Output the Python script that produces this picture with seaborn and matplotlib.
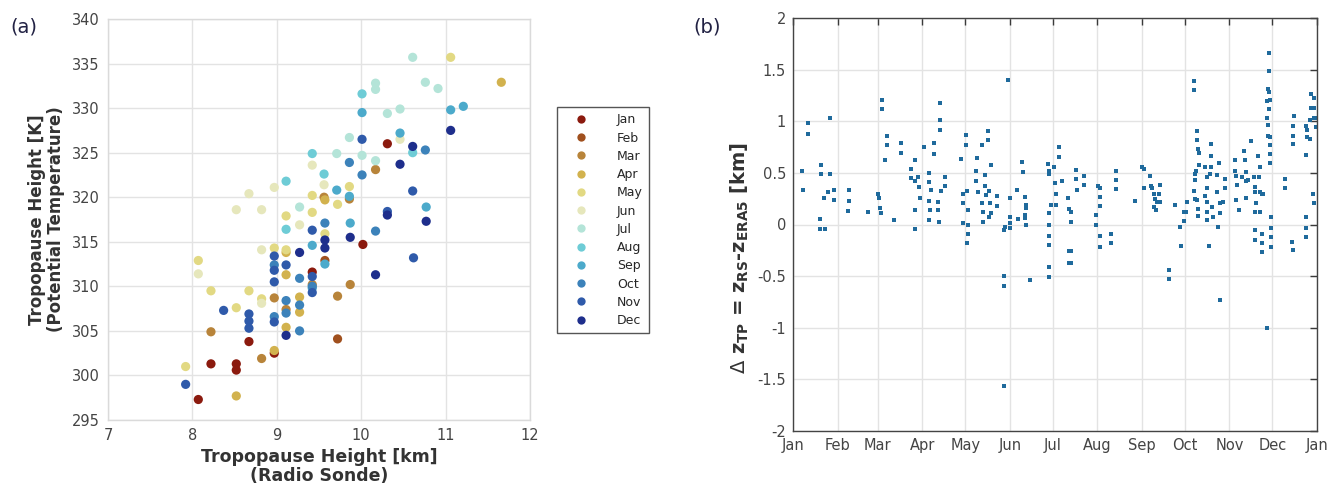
import numpy as np
import pandas as pd
import matplotlib
matplotlib.use("Agg")
import matplotlib.pyplot as plt
import seaborn as sns

# ---------------------------------------------------------------------------
# (a) tropopause height from radio sondes: (height [km], potential temperature [K])
# ---------------------------------------------------------------------------
months = ["Jan", "Feb", "Mar", "Apr", "May", "Jun",
          "Jul", "Aug", "Sep", "Oct", "Nov", "Dec"]

month_colors = ["#8B1A0E", "#A0501E", "#B8843A", "#D2B24E", "#E2D983", "#E6E7BC",
                "#B4E4D8", "#6ECCD6", "#4CAACB", "#3C82BA", "#2F5AAA", "#1E2E8C"]

jan_pts = [(9.42, 311.6), (10.02, 314.7), (8.67, 303.8), (8.97, 302.5), (8.22, 301.3),
           (8.52, 301.3), (8.52, 300.6), (8.07, 297.3), (10.31, 326.0)]
feb_pts = [(9.72, 304.1), (9.57, 312.9)]
mar_pts = [(8.97, 308.7), (9.11, 307.4), (9.72, 308.9), (9.87, 310.2), (8.22, 304.9),
           (8.82, 301.9), (10.17, 323.1), (9.56, 320.0), (9.86, 319.8), (9.42, 310.2)]
apr_pts = [(9.11, 313.8), (9.11, 311.3), (9.27, 308.8), (9.27, 307.1), (9.11, 305.4),
           (8.97, 302.8), (8.52, 297.7), (9.57, 319.7), (11.66, 332.9)]
may_pts = [(9.11, 317.9), (9.42, 318.3), (9.72, 319.2), (9.57, 315.9), (8.97, 314.3),
           (9.11, 314.1), (8.07, 312.9), (8.22, 309.5), (8.67, 309.5), (8.82, 308.6),
           (8.52, 307.6), (7.92, 301.0), (11.06, 335.7), (9.86, 321.2), (9.42, 320.2)]
jun_pts = [(8.52, 318.6), (8.82, 318.6), (9.27, 316.9), (8.82, 314.1), (8.07, 311.4),
           (8.82, 308.1), (10.46, 326.5), (9.42, 323.6), (9.56, 321.4), (8.97, 321.1),
           (8.67, 320.4)]
jul_pts = [(9.27, 318.9), (10.61, 335.7), (10.17, 332.8), (10.17, 332.1), (10.76, 332.9),
           (10.91, 332.2), (10.31, 329.4), (10.46, 329.9), (9.86, 326.7), (9.71, 324.9),
           (10.01, 324.7), (10.17, 324.1)]
aug_pts = [(9.11, 316.4), (10.01, 331.6), (10.61, 325.0), (9.42, 324.9), (9.56, 322.6),
           (9.11, 321.8)]
sep_pts = [(9.42, 314.6), (9.87, 317.1), (10.77, 318.9), (9.57, 312.5), (10.01, 329.5),
           (11.06, 329.8), (11.21, 330.2), (10.46, 327.2), (9.71, 320.8), (9.86, 320.1),
           (9.42, 309.8)]
oct_pts = [(8.97, 312.4), (9.27, 310.9), (9.11, 308.4), (9.11, 307.0), (9.27, 307.9),
           (8.97, 306.6), (9.27, 305.0), (9.57, 317.1), (10.17, 316.2), (10.76, 325.3),
           (9.86, 323.9), (10.01, 322.5), (9.42, 310.0)]
nov_pts = [(9.42, 316.3), (8.97, 313.4), (8.97, 311.8), (9.11, 312.4), (9.42, 311.1),
           (9.42, 309.3), (8.97, 310.5), (10.31, 318.4), (10.62, 313.2), (8.37, 307.3),
           (8.67, 306.9), (8.67, 306.1), (8.67, 305.3), (8.97, 306.0), (7.92, 299.0),
           (10.01, 326.5), (10.61, 320.7)]
dec_pts = [(10.31, 318.0), (10.77, 317.3), (9.57, 315.2), (9.57, 314.3), (9.87, 315.5),
           (9.27, 313.8), (10.17, 311.3), (9.11, 304.5), (11.06, 327.5), (10.61, 325.7),
           (10.46, 323.7)]

monthly_pts = [jan_pts, feb_pts, mar_pts, apr_pts, may_pts, jun_pts,
               jul_pts, aug_pts, sep_pts, oct_pts, nov_pts, dec_pts]

# ---------------------------------------------------------------------------
# (b) radio sonde minus ERA5 tropopause height: day of year, difference [km]
# ---------------------------------------------------------------------------
dz_day_h1 = [
    6.3, 6.7, 10.2, 10.2, 18.6, 18.6, 22.5, 19.7, 19.7, 21.4, 24.2, 25.6, 26.0, 28.3, 28.3,
    38.8, 38.8, 38.3, 52.3,
    59.0, 59.7, 60.4, 61.6, 62.0, 62.0, 64.3, 65.5, 65.5, 70.2, 75.5, 75.5, 82.2, 82.5,
    84.8, 85.3, 84.8, 84.8, 87.1, 87.6, 88.3,
    91.5, 94.5, 94.5, 94.5, 94.5, 95.7, 96.2, 98.0, 98.0, 101.0, 101.0, 101.5, 102.7,
    102.7, 102.7, 103.1, 106.2, 106.2, 117.1, 118.2, 118.2, 118.5,
    120.6, 120.6, 121.3, 121.7, 121.7, 121.7, 121.3, 128.2, 127.8, 127.8, 128.7, 131.7,
    131.7, 132.2, 132.2, 134.0, 134.0, 134.7, 135.7, 135.7, 136.4, 136.8, 137.5, 137.9,
    138.2, 142.2, 142.2, 146.8, 147.5, 149.6, 146.8, 146.8, 146.8,
    151.5, 151.5, 151.5, 151.5, 156.1, 156.6, 159.8, 160.0, 161.9, 162.4, 162.4, 161.9,
    161.9, 162.6, 165.4,
    177.7, 178.2, 178.2, 178.2, 178.2, 178.2, 178.2, 178.2, 178.2, 180.0,
]
dz_km_h1 = [
    0.52, 0.33, 0.98, 0.88, 0.05, -0.04, -0.04, 0.58, 0.49, 0.26, 0.31, 1.03, 0.49, 0.33, 0.24,
    0.33, 0.23, 0.13, 0.12,
    0.30, 0.26, 0.16, 0.11, 1.21, 1.12, 0.62, 0.86, 0.77, 0.04, 0.79, 0.69, 0.54, 0.45,
    0.62, 0.42, 0.14, -0.04, 0.46, 0.36, 0.26,
    0.75, 0.50, 0.41, 0.23, 0.04, 0.14, 0.33, 0.79, 0.68, 0.22, 0.14, 0.02, 1.18,
    1.01, 0.92, 0.32, 0.46, 0.37, 0.63, 0.30, 0.21, 0.01,
    0.87, 0.77, 0.32, 0.14, 0.00, -0.09, -0.18, 0.64, 0.52, 0.42, 0.31, 0.77,
    0.21, 0.12, 0.02, 0.48, 0.37, 0.29, 0.82, 0.91, 0.32, 0.07, 0.21, 0.11,
    0.58, 0.28, 0.18, -0.05, -0.02, 1.40, -0.50, -0.60, -1.56,
    0.26, 0.07, 0.01, -0.03, 0.33, 0.05, 0.61, 0.51, 0.27, 0.19, 0.16, 0.09,
    0.06, 0.00, -0.54,
    0.59, 0.52, 0.49, 0.11, 0.00, -0.11, -0.20, -0.41, -0.51, 0.19,
]
dz_day_h2 = [
    182.1, 182.8, 183.3, 183.5, 185.1, 185.1, 187.2, 191.6, 192.0, 193.9, 193.9, 192.0,
    193.6, 192.0, 193.6, 197.4, 197.4, 197.9, 202.5, 202.9,
    211.3, 211.3, 212.5, 213.6, 214.1, 213.6, 214.1, 214.1, 221.5, 221.5, 225.3, 225.3,
    225.3, 238.5,
    243.1, 244.3, 244.3, 248.9, 249.4, 250.1, 251.3, 252.4, 253.6, 251.3, 253.1, 254.8,
    255.5, 255.5, 261.7, 261.7, 266.4, 269.9, 270.3, 272.2, 272.2, 274.0,
    274.5, 279.6, 279.6, 281.5, 281.5, 282.0, 282.6, 282.6, 281.0, 280.3, 280.3, 279.6,
    280.3, 281.5, 282.0, 282.0, 287.3, 288.4, 288.4, 287.3, 288.4, 288.4, 288.4, 290.1,
    291.2, 291.2, 291.2, 290.8, 291.9, 292.6, 295.4, 295.4, 295.9, 296.6, 297.7, 297.7,
    299.6, 297.7, 301.2, 301.2,
    308.2, 308.2, 308.9, 309.4, 308.9, 310.5, 312.8, 314.0, 314.5, 315.2, 315.2, 315.2,
    316.8, 319.3, 321.0, 322.1, 322.1, 322.8, 322.1, 323.7, 324.4, 325.1, 325.6, 325.6,
    326.8, 327.5, 322.1, 322.1, 326.8, 326.8, 326.8,
    331.4, 331.4, 331.0, 331.9, 330.3, 332.1, 331.4, 330.3, 330.7, 331.0, 332.1, 332.6,
    332.6, 332.6, 333.3, 333.3, 333.3, 333.3, 330.3,
    343.0, 343.0, 348.8, 348.4, 348.4, 348.4, 347.7, 348.1, 357.0, 357.5, 358.1, 357.7,
    360.0, 360.5, 363.2, 360.9, 363.2, 360.0, 362.8, 364.6, 364.6, 362.3, 362.8, 357.0,
    357.0, 357.0,
]
dz_km_h2 = [
    0.56, 0.40, 0.30, 0.19, 0.75, 0.65, 0.42, 0.26, 0.15, 0.12, 0.02, -0.26,
    -0.26, -0.37, -0.37, 0.53, 0.44, 0.33, 0.47, 0.38,
    0.09, 0.00, 0.37, 0.35, 0.27, 0.18, -0.11, -0.22, -0.09, -0.18, 0.52, 0.43,
    0.34, 0.23,
    0.56, 0.54, 0.35, 0.47, 0.37, 0.35, 0.30, 0.25, 0.22, 0.17, 0.14, 0.30,
    0.38, 0.22, -0.44, -0.53, 0.19, -0.02, -0.21, 0.03, 0.12, 0.12,
    0.22, 1.39, 1.30, 0.91, 0.82, 0.73, 0.69, 0.58, 0.52, 0.49, 0.43, 0.32,
    0.25, 0.24, 0.15, 0.08, 0.56, 0.46, 0.35, 0.28, 0.22, 0.12, 0.04, -0.21,
    0.78, 0.66, 0.56, 0.49, 0.17, 0.07, 0.48, 0.31, -0.02, 0.60, 0.21, 0.11,
    0.22, -0.73, 0.44, 0.35,
    0.62, 0.52, 0.47, 0.38, 0.24, 0.14, 0.46, 0.71, 0.62, 0.51, 0.42, 0.26,
    0.43, 0.81, 0.46, 0.36, 0.31, 0.21, 0.12, 0.66, 0.46, 0.31, 0.56, 0.12,
    0.30, 0.30, -0.05, -0.15, -0.09, -0.18, -0.27,
    1.66, 1.49, 1.31, 1.28, 1.20, 1.21, 1.12, 1.03, 0.96, 0.86, 0.85, 0.77,
    0.68, 0.60, 0.07, -0.03, -0.12, -0.22, -1.00,
    0.44, 0.35, 1.05, 0.95, 0.86, 0.78, -0.17, -0.25, 0.67, 0.95, 0.92, 0.85,
    0.83, 1.26, 1.23, 1.13, 1.13, 1.01, 1.03, 1.03, 0.94, 0.30, 0.21, 0.07,
    -0.03, -0.12,
]

month_start_days = [0, 31, 59, 90, 120, 151, 181, 212, 243, 273, 304, 334, 365]
month_tick_labels = months + ["Jan"]

# ---------------------------------------------------------------------------
sns.set_style("white")
plt.rcParams["font.family"] = ["DejaVu Sans"]

rows = []
for name, pts in zip(months, monthly_pts):
    for km, theta in pts:
        rows.append({"height_km": km, "theta_K": theta, "month": name})
df_a = pd.DataFrame(rows)
df_b = pd.DataFrame({"day": dz_day_h1 + dz_day_h2, "dz": dz_km_h1 + dz_km_h2})

W, H = 1330, 487
fig = plt.figure(figsize=(W / 100, H / 100), dpi=100)
ax1 = fig.add_axes([108 / W, 1 - 420 / H, 422 / W, 401 / H])
ax2 = fig.add_axes([793 / W, 1 - 431 / H, 524 / W, 413 / H])

tick_col = "#3a3a3a"
grid_col = "#e3e3e3"

# ---- panel (a)
sns.scatterplot(data=df_a, x="height_km", y="theta_K", hue="month", hue_order=months,
                palette=month_colors, s=44, linewidth=0, alpha=1.0, ax=ax1)
ax1.set_xlim(7, 12)
ax1.set_ylim(295, 340)
ax1.set_xticks(np.arange(7, 12.1, 1))
ax1.set_yticks(np.arange(295, 340.1, 5))
ax1.grid(True, color=grid_col, linewidth=1.0)
ax1.set_axisbelow(True)
for sp in ax1.spines.values():
    sp.set_color("#dadada")
    sp.set_linewidth(1.0)
ax1.tick_params(direction="in", length=4, width=1, colors=tick_col,
                labelsize=10.5, labelcolor="#444444", pad=6)
ax1.set_xlabel("Tropopause Height [km]\n(Radio Sonde)", fontsize=12.5,
               fontweight="bold", color="#333333", labelpad=3, linespacing=1.1)
ax1.set_ylabel("Tropopause Height [K]\n(Potential Temperature)", fontsize=12,
               fontweight="bold", color="#333333", labelpad=5, linespacing=1.05)

handles, labels = ax1.get_legend_handles_labels()
ax1.legend(handles, labels, loc="upper left",
           bbox_to_anchor=(557 / W, 1 - 107 / H), bbox_transform=fig.transFigure,
           fontsize=9, frameon=True, fancybox=False, edgecolor="#555555",
           framealpha=1, borderpad=0.5, labelspacing=0.42, handletextpad=1.5,
           handlelength=2.8, markerscale=0.9, borderaxespad=0)
ax1.get_legend().get_frame().set_linewidth(1.0)

# ---- panel (b)
sns.scatterplot(data=df_b, x="day", y="dz", marker="s", s=8, color="#1f6a9c",
                linewidth=0, ax=ax2)
ax2.set_xlim(0, 365)
ax2.set_ylim(-2, 2)
ax2.set_xticks(month_start_days)
ax2.set_xticklabels(month_tick_labels)
ax2.set_yticks(np.arange(-2, 2.01, 0.5))
ax2.set_yticklabels(["-2", "-1.5", "-1", "-0.5", "0", "0.5", "1", "1.5", "2"])
ax2.grid(True, color=grid_col, linewidth=1.0)
ax2.set_axisbelow(True)
for sp in ax2.spines.values():
    sp.set_color("#444444")
    sp.set_linewidth(1.0)
ax2.tick_params(direction="in", length=5, width=1, colors=tick_col,
                labelsize=10.5, labelcolor="#444444", top=True, right=True, pad=5)
ax2.set_xlabel("")
ax2.set_ylabel(r"$\Delta$ $\mathbf{z_{TP}}$ = $\mathbf{z_{RS}}$-$\mathbf{z_{ERA5}}$ [km]",
               fontsize=14, fontweight="bold", color="#333333")
ax2.yaxis.set_label_coords(-0.08, 0.42)

# ---- panel letters
fig.text(10 / W, 1 - 27 / H, "(a)", fontsize=14, color="#222244", va="center", ha="left")
fig.text(693 / W, 1 - 27 / H, "(b)", fontsize=14, color="#222244", va="center", ha="left")

fig.savefig("out.png", dpi=100)
